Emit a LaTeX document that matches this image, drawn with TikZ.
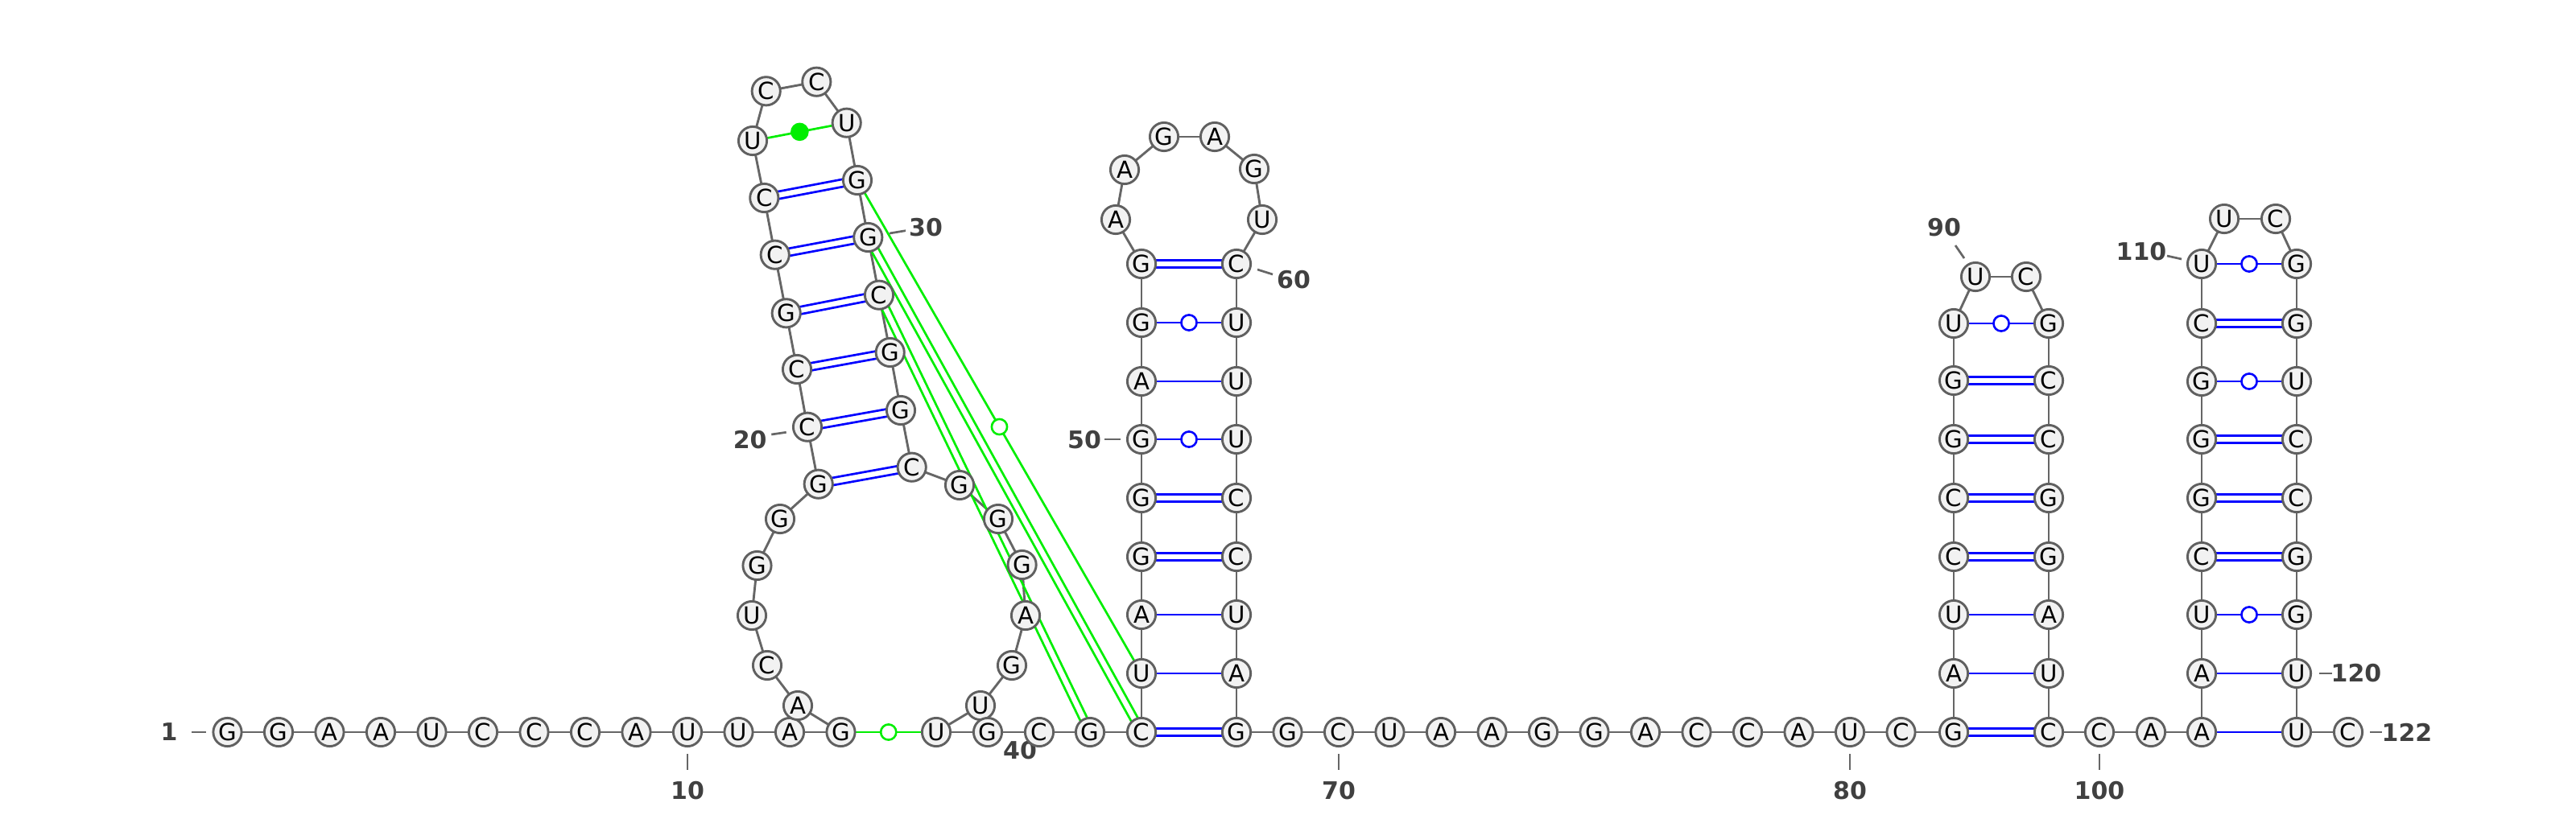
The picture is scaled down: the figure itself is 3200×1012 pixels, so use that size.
\documentclass[tikz,border=0pt]{standalone}
\usepackage{fontspec}
\setmainfont{DejaVu Sans}
\usetikzlibrary{calc}
\pgfdeclarelayer{bg}
\pgfsetlayers{bg,main}
\definecolor{ntfill}{RGB}{242,242,242}
\definecolor{ntdraw}{RGB}{96,96,96}
\definecolor{bbcol}{RGB}{102,102,102}
\definecolor{pblue}{RGB}{0,0,255}
\definecolor{pgreen}{RGB}{0,238,0}
\definecolor{labcol}{RGB}{64,64,64}
\newcommand{\pairdbl}[3]{%
  \draw[pairline,#3] ($(#1.center)!2.3pt!90:(#2.center)$) -- ($(#2.center)!2.3pt!-90:(#1.center)$);
  \draw[pairline,#3] ($(#1.center)!2.3pt!-90:(#2.center)$) -- ($(#2.center)!2.3pt!90:(#1.center)$);
}
\tikzset{
  nt/.style={circle, draw=ntdraw, fill=ntfill, line width=1.45pt, minimum size=17.6pt, inner sep=0pt, font=\fontsize{14.6}{14.6}\selectfont},
  bb/.style={draw=bbcol, line width=1.45pt},
  pairline/.style={line width=1.35pt},
  gucirc/.style={circle, draw=#1, fill=white, line width=1.3pt, minimum size=9.6pt, inner sep=0pt},
  gudot/.style={circle, fill=pgreen, minimum size=11.3pt, inner sep=0pt},
  lab/.style={text=labcol, font=\fontsize{15}{15}\selectfont\bfseries, inner sep=0pt},
  tickline/.style={draw=bbcol, line width=1.35pt},
}
\begin{document}
\begin{tikzpicture}[x=0.5pt,y=-0.5pt]
\useasboundingbox (0,0) rectangle (3200,1012);
\foreach \x/\y/\b [count=\i] in {
282.5/910/G, 346/910/G, 409.5/910/A, 473/910/A, 536.5/910/U, 600/910/C, 663.5/910/C, 727/910/C, 790.5/910/A, 854/910/U,
917.5/910/U, 981/910/A, 1044.5/910/G, 991/877/A, 953/827/C, 934/765/U, 940.5/703/G, 969/645/G, 1016.7/601.7/G, 1003/530.7/C,
990/459/C, 976.7/389.3/G, 962.7/316.7/C, 949.3/246/C, 935/175/U, 951.7/113.3/C, 1014.3/101.7/C, 1051.7/152.7/U, 1065/224/G, 1078.3/295/G,
1092/366.7/C, 1105.7/438/G, 1119/510/G, 1132.7/580.7/C, 1192/603/G, 1240/645/G, 1269.6/702/G, 1274/765/A, 1257/827/G, 1218/877/U,
1163/910/U, 1227/910/G, 1291/910/C, 1354/910/G, 1418/910/C, 1418/837/U, 1418/764/A, 1418/692/G, 1418/619/G, 1418/546/G,
1418/474/A, 1418/401/G, 1418/328/G, 1386/273/A, 1397/211/A, 1446/170/G, 1509/170/A, 1558/210/G, 1568/273/U, 1536/328/C,
1536/401/U, 1536/474/U, 1536/546/U, 1536/619/C, 1536/692/C, 1536/764/U, 1536/837/A, 1536/910/G, 1599.5/910/G, 1663/910/C,
1726.5/910/U, 1790/910/A, 1853.5/910/A, 1917/910/G, 1980.5/910/G, 2044/910/A, 2107.5/910/C, 2171/910/C, 2234.5/910/A, 2298/910/U,
2361.5/910/C, 2427/910/G, 2427/837/A, 2427/764/U, 2427/692/C, 2427/619/C, 2427/546/G, 2427/473/G, 2427/402/U, 2454/344/U,
2517/344/C, 2545/402/G, 2545/473/C, 2545/546/C, 2545/619/G, 2545/692/G, 2545/764/A, 2545/837/U, 2545/910/C, 2608/910/C,
2672/910/A, 2735/910/A, 2735/837/A, 2735/764/U, 2735/692/C, 2735/619/G, 2735/546/G, 2735/474/G, 2735/402/C, 2735/328/U,
2763/272/U, 2827/272/C, 2853/328/G, 2853/402/G, 2853/474/U, 2853/546/C, 2853/619/C, 2853/692/G, 2853/764/G, 2853/837/U,
2853/910/U, 2917/910/C}
{\node[nt] (n\i) at (\x,\y) {\b};}
\begin{pgfonlayer}{bg}
% backbone
\foreach \i in {1,...,121} {\pgfmathtruncatemacro\j{\i+1}\draw[bb] (n\i.center) -- (n\j.center);}
% canonical pairs
\foreach \a/\b in {19/34,20/33,21/32,22/31,23/30,24/29,45/68,48/65,49/64,53/60,82/99,85/96,86/95,87/94,88/93,105/118,106/117,107/116,109/114}
  {\pairdbl{n\a}{n\b}{pblue}}
\foreach \a/\b in {46/67,47/66,51/62,83/98,84/97,102/121,103/120}
  {\draw[pairline,pblue] (n\a.center) -- (n\b.center);}
\foreach \a/\b in {50/63,52/61,89/92,104/119,108/115,110/113}
  {\draw[pairline,pblue] (n\a.center) -- node[gucirc=pblue]{} (n\b.center);}
% tertiary / pseudoknot pairs
\pairdbl{n30}{n45}{pgreen}
\pairdbl{n31}{n44}{pgreen}
\draw[pairline,pgreen] (n29.center) -- node[gucirc=pgreen]{} (n46.center);
\draw[pairline,pgreen] (n13.center) -- node[gucirc=pgreen]{} (n41.center);
\draw[pairline,pgreen] (n25.center) -- node[gudot]{} (n28.center);
% numbering
\draw[tickline] ($(n1)+(-44.5,0)$) -- ($(n1)+(-26.5,0)$);
\node[lab] (l1) at ($(n1)+(-72.5,0)$) {1};
\foreach \k in {10,70,80,100} {
  \draw[tickline] ($(n\k)+(0,27)$) -- ($(n\k)+(0,47)$);
  \node[lab] (l\k) at ($(n\k)+(0,73)$) {\k};
}
\draw[tickline] ($(n20)+(-44.7,9.3)$) -- ($(n20)+(-26.3,6.6)$);
\node[lab] (l20) at ($(n20)+(-71.3,16)$) {20};
\draw[tickline] ($(n30)+(26.7,-5)$) -- ($(n30)+(46.7,-8.3)$);
\node[lab] (l30) at ($(n30)+(71.7,-12)$) {30};
\node[lab] (l40) at ($(n40)+(49,56)$) {40};
\draw[tickline] ($(n50)+(-46,0)$) -- ($(n50)+(-26,0)$);
\node[lab] (l50) at ($(n50)+(-71,1)$) {50};
\draw[tickline] ($(n60)+(26,7)$) -- ($(n60)+(45,13)$);
\node[lab] (l60) at ($(n60)+(71,20)$) {60};
\draw[tickline] ($(n90)+(-25,-39)$) -- ($(n90)+(-14,-23)$);
\node[lab] (l90) at ($(n90)+(-39,-61)$) {90};
\draw[tickline] ($(n110)+(-43,-10)$) -- ($(n110)+(-25,-6)$);
\node[lab] (l110) at ($(n110)+(-75,-15)$) {110};
\draw[tickline] ($(n120)+(28,0)$) -- ($(n120)+(44,0)$);
\node[lab] (l120) at ($(n120)+(74,0)$) {120};
\draw[tickline] ($(n122)+(27,0)$) -- ($(n122)+(42,0)$);
\node[lab] (l122) at ($(n122)+(73,0)$) {122};
\end{pgfonlayer}
\end{tikzpicture}
\end{document}
